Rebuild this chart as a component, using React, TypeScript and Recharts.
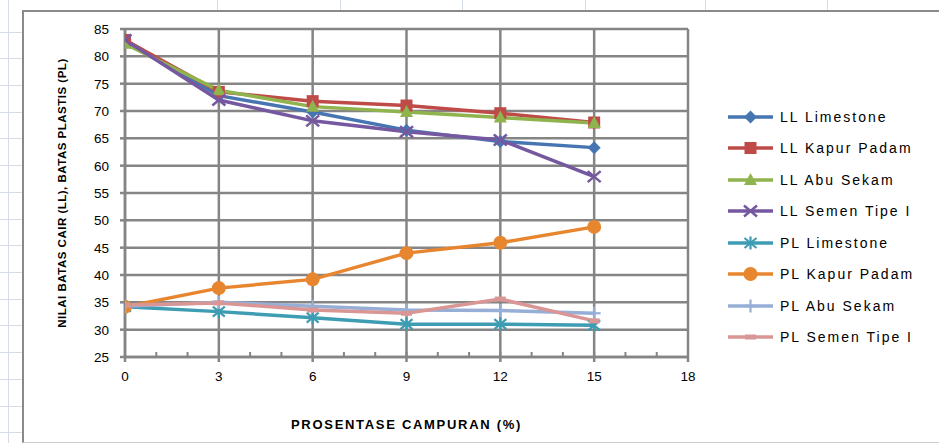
import React from "react";
import { LineChart, Line, XAxis, YAxis, CartesianGrid } from "recharts";

// Percentages of admixture on the x axis
const percent = [0, 3, 6, 9, 12, 15];

// Liquid limit (LL) per admixture
const llLimestone = [83, 72.8, 69.8, 66.5, 64.4, 63.3];
const llKapurPadam = [83, 73.5, 71.8, 71, 69.6, 67.9];
const llAbuSekam = [82.3, 73.8, 70.8, 69.8, 68.8, 67.8];
const llSemenTipe1 = [83, 72, 68.2, 66.2, 64.7, 58];

// Plastic limit (PL) per admixture
const plLimestone = [34.2, 33.3, 32.2, 31, 31, 30.8];
const plKapurPadam = [34.2, 37.6, 39.2, 44, 45.9, 48.8];
const plAbuSekam = [34.3, 35, 34.3, 33.6, 33.5, 33];
const plSemenTipe1 = [34.5, 34.9, 33.6, 33, 35.6, 31.6];

const xTicks = [0, 3, 6, 9, 12, 15, 18];
const yTicks = [25, 30, 35, 40, 45, 50, 55, 60, 65, 70, 75, 80, 85];
const xMinor = Array.from({ length: 19 }, (_, i) => i);
const yMinor = Array.from({ length: 61 }, (_, i) => 25 + i);

type Marker = "diamond" | "square" | "triangle" | "x" | "star" | "circle" | "plus" | "dash";

const SERIES: { key: string; name: string; values: number[]; color: string; marker: Marker }[] = [
  { key: "llLimestone", name: "LL Limestone", values: llLimestone, color: "#4675B1", marker: "diamond" },
  { key: "llKapurPadam", name: "LL Kapur Padam", values: llKapurPadam, color: "#BE4B48", marker: "square" },
  { key: "llAbuSekam", name: "LL Abu Sekam", values: llAbuSekam, color: "#8FB34D", marker: "triangle" },
  { key: "llSemenTipe1", name: "LL Semen Tipe I", values: llSemenTipe1, color: "#7558A0", marker: "x" },
  { key: "plLimestone", name: "PL Limestone", values: plLimestone, color: "#3E9CB3", marker: "star" },
  { key: "plKapurPadam", name: "PL Kapur Padam", values: plKapurPadam, color: "#E8862F", marker: "circle" },
  { key: "plAbuSekam", name: "PL Abu Sekam", values: plAbuSekam, color: "#97AFD7", marker: "plus" },
  { key: "plSemenTipe1", name: "PL Semen Tipe I", values: plSemenTipe1, color: "#D99694", marker: "dash" },
];

const data = percent.map((p, i) => {
  const row: Record<string, number> = { pct: p };
  SERIES.forEach((s) => (row[s.key] = s.values[i]));
  return row;
});

function MarkerShape({ type, cx, cy, color }: { type: Marker; cx: number; cy: number; color: string }) {
  switch (type) {
    case "diamond":
      return <polygon points={`${cx},${cy - 6.5} ${cx + 6.5},${cy} ${cx},${cy + 6.5} ${cx - 6.5},${cy}`} fill={color} />;
    case "square":
      return <rect x={cx - 6} y={cy - 6} width={12} height={12} fill={color} />;
    case "triangle":
      return <polygon points={`${cx},${cy - 7} ${cx + 6.5},${cy + 5} ${cx - 6.5},${cy + 5}`} fill={color} />;
    case "x":
      return (
        <g stroke={color} strokeWidth={2.5}>
          <line x1={cx - 6.5} y1={cy - 5.5} x2={cx + 6.5} y2={cy + 5.5} />
          <line x1={cx - 6.5} y1={cy + 5.5} x2={cx + 6.5} y2={cy - 5.5} />
        </g>
      );
    case "star":
      return (
        <g stroke={color} strokeWidth={2.2}>
          <line x1={cx - 6} y1={cy - 5} x2={cx + 6} y2={cy + 5} />
          <line x1={cx - 6} y1={cy + 5} x2={cx + 6} y2={cy - 5} />
          <line x1={cx} y1={cy - 6.5} x2={cx} y2={cy + 6.5} />
        </g>
      );
    case "circle":
      return <circle cx={cx} cy={cy} r={7} fill={color} />;
    case "plus":
      return (
        <g stroke={color} strokeWidth={2.2}>
          <line x1={cx - 6.5} y1={cy} x2={cx + 6.5} y2={cy} />
          <line x1={cx} y1={cy - 6.5} x2={cx} y2={cy + 6.5} />
        </g>
      );
    case "dash":
      return <rect x={cx - 5.5} y={cy - 2.5} width={11} height={5} fill={color} />;
  }
  return null;
}

const FONT = "'Liberation Sans', Arial, sans-serif";
const GRID = "#858585";
const noLabel = () => <g />;

// tick labels drawn by hand so the font size sticks
const XTick = ({ x, y, payload }: any) => (
  <text x={x} y={y + 9} textAnchor="middle" fontSize={13.5} fill="#000" fontFamily={FONT}>
    {payload.value}
  </text>
);
const YTick = ({ x, y, payload }: any) => (
  <text x={x} y={y + 5} textAnchor="end" fontSize={13.5} fill="#000" fontFamily={FONT}>
    {payload.value}
  </text>
);

// faint spreadsheet cell lines peeking out around the chart frame
const colLines = [8, 217, 340, 462, 585, 705, 827];

export default function App() {
  return (
    <div
      style={{
        position: "relative",
        width: 939,
        height: 443,
        overflow: "hidden",
        background:
          "repeating-linear-gradient(to bottom, transparent 0px, transparent 25.7px, #D5DCE8 25.7px, #D5DCE8 26.7px) 0 6px / 100% 100%, #fff",
        fontFamily: FONT,
      }}
    >
      <style>{`body{margin:0}`}</style>
      {colLines.map((x) => (
        <div key={x} style={{ position: "absolute", left: x, top: 0, width: 1, height: 443, background: "#D5DCE8" }} />
      ))}
      <div
        style={{
          position: "absolute",
          left: 22,
          top: 10,
          width: 960,
          height: 430,
          background: "#fff",
          borderTop: "2px solid #8A8A8A",
          borderLeft: "2px solid #8A8A8A",
          borderBottom: "1px solid #CFCFCF",
        }}
      />
      <div style={{ position: "absolute", left: 0, top: 0 }}>
        <LineChart width={939} height={443} data={data} margin={{ top: 29, right: 251, bottom: 56, left: 65 }}>
          <CartesianGrid stroke={GRID} strokeWidth={2.5} />
          <XAxis
            xAxisId="minor"
            dataKey="pct"
            type="number"
            domain={[0, 18]}
            ticks={xMinor}
            allowDataOverflow
            mirror
            axisLine={false}
            tick={noLabel}
            tickSize={5}
            tickLine={{ stroke: GRID, strokeWidth: 2 }}
          />
          <YAxis
            yAxisId="minor"
            type="number"
            domain={[25, 85]}
            ticks={yMinor}
            allowDataOverflow
            mirror
            axisLine={false}
            tick={noLabel}
            tickSize={5}
            tickLine={{ stroke: GRID, strokeWidth: 1.5 }}
          />
          <XAxis
            dataKey="pct"
            type="number"
            domain={[0, 18]}
            ticks={xTicks}
            allowDataOverflow
            height={30}
            stroke={GRID}
            strokeWidth={2.5}
            tickSize={5}
            tickMargin={10}
            tick={XTick}
            label={{
              value: "PROSENTASE CAMPURAN (%)",
              position: "insideBottom",
              offset: -42,
              style: { fontSize: 13, fontWeight: 700, fill: "#000", letterSpacing: 1.7, fontFamily: FONT },
            }}
          />
          <YAxis
            type="number"
            domain={[25, 85]}
            ticks={yTicks}
            allowDataOverflow
            width={60}
            stroke={GRID}
            strokeWidth={2.5}
            tickSize={5}
            tickMargin={11}
            tick={YTick}
            label={{
              value: "NILAI BATAS CAIR (LL), BATAS PLASTIS (PL)",
              angle: -90,
              position: "insideLeft",
              offset: 0,
              dx: -3,
              style: { textAnchor: "middle", fontSize: 11.5, fontWeight: 700, fill: "#000", letterSpacing: 0.5, fontFamily: FONT },
            }}
          />
          {SERIES.map((s) => (
            <Line
              key={s.key}
              dataKey={s.key}
              name={s.name}
              stroke={s.color}
              strokeWidth={3.5}
              isAnimationActive={false}
              dot={(p: any) => <MarkerShape key={`${s.key}-${p.index}`} type={s.marker} cx={p.cx} cy={p.cy} color={s.color} />}
              activeDot={false}
            />
          ))}
        </LineChart>
      </div>
      <div style={{ position: "absolute", left: 727, top: 101 }}>
        {SERIES.map((s) => (
          <div key={s.key} style={{ display: "flex", alignItems: "center", height: 31.5 }}>
            <svg width={48} height={16}>
              <line x1={1} y1={8} x2={46} y2={8} stroke={s.color} strokeWidth={3.5} />
              <MarkerShape type={s.marker} cx={23.5} cy={8} color={s.color} />
            </svg>
            <span style={{ marginLeft: 5, fontSize: 14, letterSpacing: 2, color: "#000" }}>{s.name}</span>
          </div>
        ))}
      </div>
    </div>
  );
}
